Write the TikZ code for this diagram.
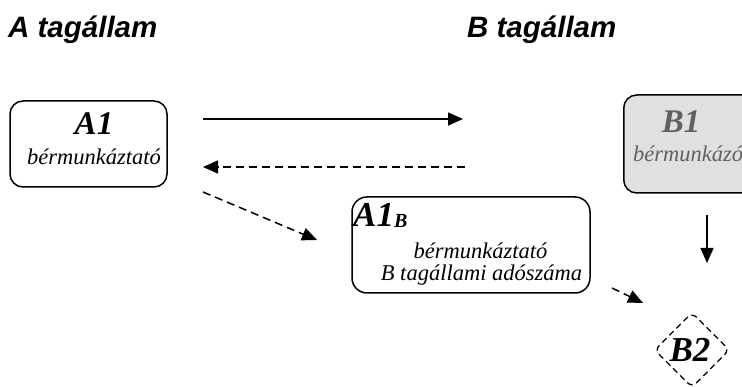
\documentclass[tikz,border=0pt]{standalone}
\usepackage{fontspec}
\setmainfont{Liberation Serif}
\newfontfamily\titlefont{Liberation Sans}
\usetikzlibrary{shapes.geometric,arrows.meta}
\definecolor{boxgray}{HTML}{E0E0E0}
\definecolor{txtgray}{HTML}{606060}
\begin{document}
\begin{tikzpicture}[x=1pt,y=-1pt,
  title/.style={font=\titlefont\bfseries\itshape\fontsize{29.5}{31}\selectfont, anchor=base west, inner sep=0pt},
  box/.style={draw, line width=1.5pt, rounded corners=13pt, inner sep=0pt},
  big/.style={font=\bfseries\itshape\fontsize{33}{35}\selectfont, anchor=base, inner sep=0pt},
  small/.style={font=\itshape\fontsize{22.5}{24}\selectfont, anchor=base, inner sep=0pt},
  arr/.style={line width=1.5pt, -{Triangle[length=15pt,width=13pt]}},
  dsh/.style={arr, dash pattern=on 8pt off 5pt}]
\useasboundingbox (0,0) rectangle (742,387);
\clip (0,0) rectangle (742,387);

% titles
\node[title] (tA) at (8,38) {A tagállam};
\node[title] (tB) at (467,38) {B tagállam};

% A1 box
\node[box, minimum width=157pt, minimum height=86pt] (A1box) at (88.5,144) {};
\node[big] (A1t) at (94,135) {A1};
\node[small] (A1s) at (94,165) {bérmunkáztató};

% A1_B box
\node[box, rounded corners=15pt, minimum width=238pt, minimum height=96pt] (A1Bbox) at (471,245) {};
\node[big, anchor=base west, font=\bfseries\itshape\fontsize{35}{36}\selectfont] (A1Bt) at (353,227) {A1\raisebox{-1pt}{\fontsize{20}{20}\selectfont B}};
\node[small] (A1Bs1) at (480.5,259) {bérmunkáztató};
\node[small] (A1Bs2) at (481.5,281) {B tagállami adószáma};

% B1 box
\node[box, fill=boxgray, anchor=west, minimum width=180pt, minimum height=98pt] (B1box) at (623,144) {};
\node[big, text=txtgray] (B1t) at (681,133) {B1};
\node[small, text=txtgray, anchor=base west] (B1s) at (633,162) {bérmunkázó};

% B2 diamond
\node[diamond, draw, line width=1.3pt, dash pattern=on 6pt off 4pt, rounded corners=6pt,
      minimum width=75pt, minimum height=75pt, inner sep=0pt] (B2box) at (692,350) {};
\node[big, font=\bfseries\itshape\fontsize{35}{36}\selectfont] (B2t) at (690,362) {B2};

% connectors
\coordinate (p1) at (203,119); \coordinate (q1) at (463,119);
\coordinate (p2) at (465,167); \coordinate (q2) at (203,167);
\coordinate (p3) at (203,192); \coordinate (q3) at (317,240);
\coordinate (p4) at (707,215); \coordinate (q4) at (707,263);
\coordinate (p5) at (612,288); \coordinate (q5) at (643,303);
\draw[arr] (p1) -- (q1);
\draw[dsh] (p2) -- (q2);
\draw[dsh] (p3) -- (q3);
\draw[arr] (p4) -- (q4);
\draw[dsh] (p5) -- (q5);
\end{tikzpicture}
\end{document}
